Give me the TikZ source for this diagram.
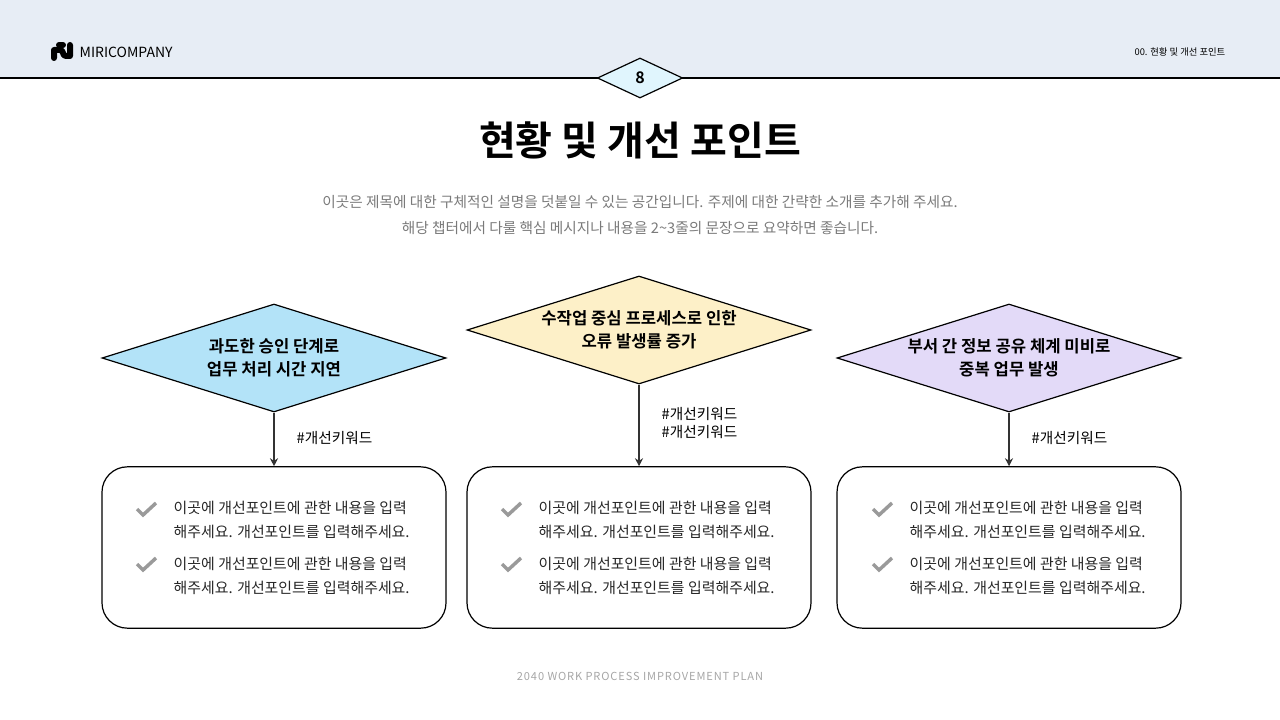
\documentclass[tikz,border=0pt]{standalone}
\usepackage{fontspec}
\setmainfont{Noto Sans CJK KR}
\newfontfamily\kb{Noto Sans CJK KR Bold}
\newfontfamily\spaced[LetterSpace=8]{Noto Sans CJK KR}
\usetikzlibrary{shapes.geometric,arrows.meta}
\definecolor{hdr}{HTML}{E7EDF5}
\definecolor{gtx}{HTML}{7A7A7A}
\definecolor{dblue}{HTML}{B3E3F8}
\definecolor{dyel}{HTML}{FDF0C8}
\definecolor{dpur}{HTML}{E3DAF8}
\definecolor{chk}{HTML}{9A9A9A}
\tikzset{
 dia/.style={diamond,draw=black,line width=0.9pt,aspect=3.2,minimum width=258pt,minimum height=81pt,inner sep=0pt,align=center,font=\kb\fontsize{12.5}{17}\selectfont},
 card/.style={draw=black,line width=0.9pt,rounded corners=19pt,minimum width=258pt,minimum height=121pt},
 conn/.style={line width=1.3pt,draw=black!80,-{Stealth[length=6pt,width=6pt]}},
 kw/.style={font=\fontsize{11}{14}\selectfont,anchor=west,align=left},
 txt/.style={font=\fontsize{11.2}{18}\selectfont,anchor=north west,align=left,text=black!85},
 ck/.style={line width=2.6pt,draw=chk}
}
\newcommand{\cktxt}{이곳에 개선포인트에 관한 내용을 입력\\해주세요. 개선포인트를 입력해주세요.}
\begin{document}
\begin{tikzpicture}[x=0.75pt,y=-0.75pt]
\useasboundingbox (0,0) rectangle (1280,720);
\fill[hdr] (0,0) rectangle (1280,78);
\draw[line width=1pt] (0,78) -- (1280,78);
% logo
\draw[line width=4.5pt,line cap=round,line join=round] (54,58) -- (54,50) -- (60,50) .. controls (64,50) and (62,56) .. (66,56) -- (70,56) -- (70,45);
\draw[line width=4.5pt,line cap=round] (59,45) -- (63,45);
\node[anchor=west,font=\fontsize{10.5}{12}\selectfont] (logo) at (75,52) {MIRICOMPANY};
\node[anchor=east,font=\fontsize{7}{9}\selectfont] (crumb) at (1230,52) {00. 현황 및 개선 포인트};
\node[diamond,draw=black,fill=cyan!12,line width=0.9pt,aspect=2.15,minimum width=64pt,minimum height=30pt,inner sep=0pt,font=\kb\fontsize{12}{14}\selectfont] (badge) at (640,78) {8};
\node[font=\kb\fontsize{30}{34}\selectfont] (title) at (640,140) {현황 및 개선 포인트};
\node[font=\fontsize{11}{19}\selectfont,text=gtx,align=center] (sub) at (640,215) {이곳은 제목에 대한 구체적인 설명을 덧붙일 수 있는 공간입니다. 주제에 대한 간략한 소개를 추가해 주세요.\\해당 챕터에서 다룰 핵심 메시지나 내용을 2\textasciitilde3줄의 문장으로 요약하면 좋습니다.};
\node[dia,fill=dblue] (d1) at (274,358) {과도한 승인 단계로\\업무 처리 시간 지연};
\node[dia,fill=dyel] (d2) at (639,330) {수작업 중심 프로세스로 인한\\오류 발생률 증가};
\node[dia,fill=dpur] (d3) at (1009,358) {부서 간 정보 공유 체계 미비로\\중복 업무 발생};
\node[card] (b1) at (274,547.5) {};
\node[card] (b2) at (639,547.5) {};
\node[card] (b3) at (1009,547.5) {};
\draw[conn] (d1.south) -- (b1.north);
\draw[conn] (d2.south) -- (b2.north);
\draw[conn] (d3.south) -- (b3.north);
\node[kw] (k1) at (292,438) {\#개선키워드};
\node[kw] (k2) at (657,423) {\#개선키워드\\[-1pt]\#개선키워드};
\node[kw] (k3) at (1027,438) {\#개선키워드};
\foreach \b/\x in {1/169,2/534,3/905}{
  \node[txt] (t\b a) at (\x,496) {\cktxt};
  \node[txt] (t\b b) at (\x,552) {\cktxt};
  \foreach \y in {510,565}{
    \draw[ck] (\x-32,\y-1) -- (\x-26,\y+5) -- (\x-13,\y-7);
  }
}
\node[font=\spaced\fontsize{8.3}{10}\selectfont,text=black!35] (foot) at (640,676) {2040 WORK PROCESS IMPROVEMENT PLAN};
\end{tikzpicture}
\end{document}
